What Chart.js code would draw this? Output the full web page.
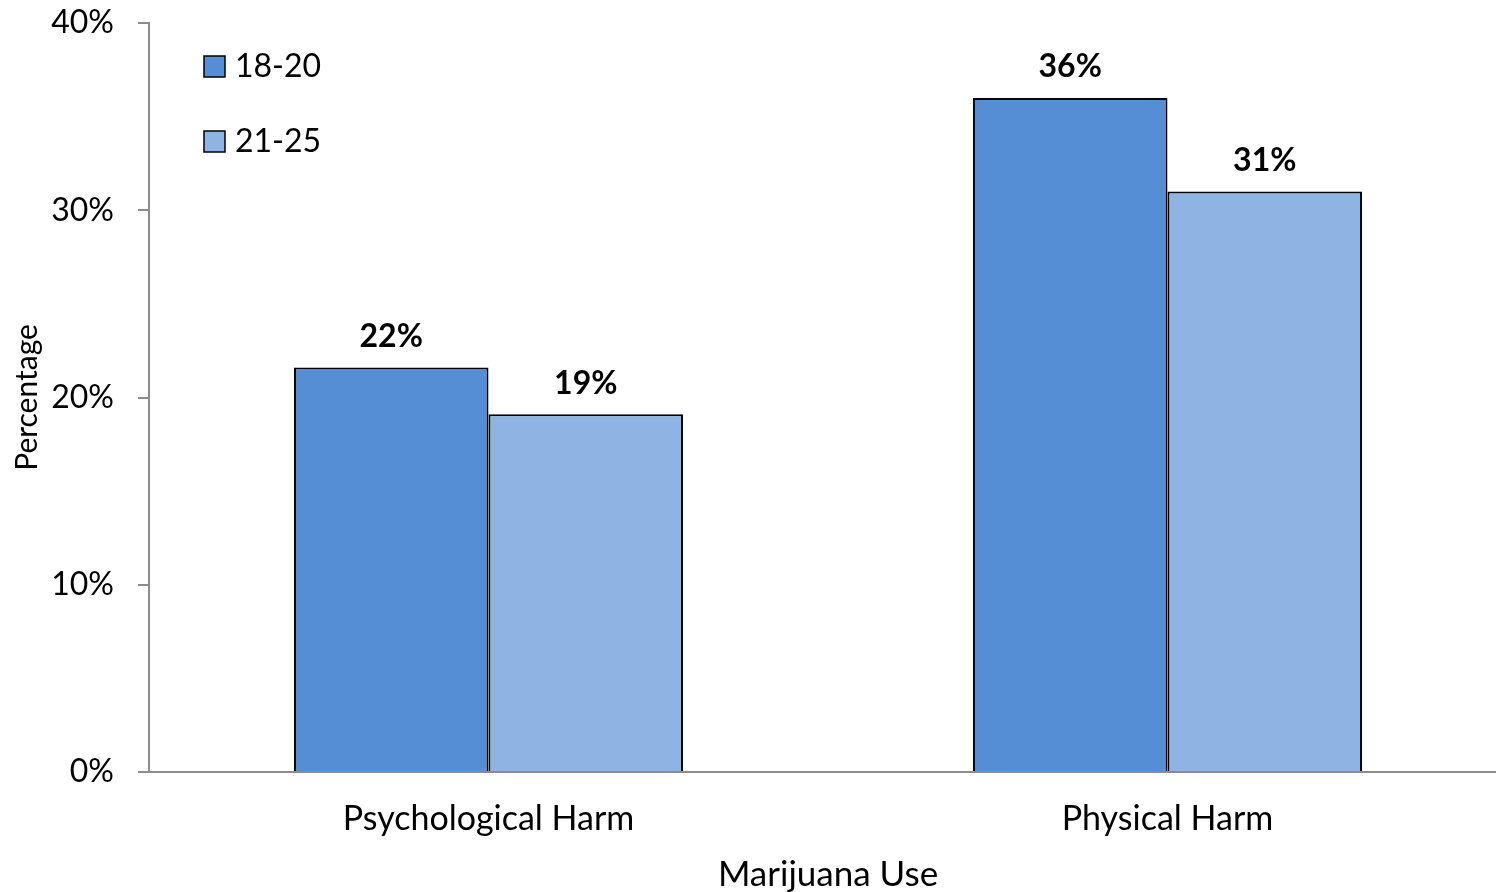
<!DOCTYPE html>
<html>
<head>
<style>
  html, body { margin: 0; padding: 0; background: #fff; overflow: hidden; }
  #wrap { width: 1507px; height: 892px; }
</style>
</head>
<body>
<div id="wrap">
  <canvas id="chartHarm"></canvas>
</div>
<script src="https://cdn.jsdelivr.net/npm/chart.js@4"></script>
<script>
const categories = ['Psychological Harm', 'Physical Harm'];
const seriesNames = ['18-20', '21-25'];
const values1820 = [21.6, 36.0];
const values2125 = [19.1, 31.0];
const yTicks = [0, 10, 20, 30, 40];

const FONT = 'Lato, "Open Sans", sans-serif';
const colors = ['#558ED5', '#8EB4E3'];

// value labels above each bar
const barLabels = {
    id: 'barLabels',
    afterDatasetsDraw(chart) {
        const ctx = chart.ctx;
        ctx.save();
        ctx.font = 'bold 32px ' + FONT;
        ctx.fillStyle = '#000';
        ctx.textAlign = 'center';
        ctx.textBaseline = 'bottom';
        chart.data.datasets.forEach((ds, i) => {
            chart.getDatasetMeta(i).data.forEach((bar, j) => {
                ctx.fillText(Math.round(ds.data[j]) + '%', bar.x, bar.y - 15);
            });
        });
        ctx.restore();
    }
};

// legend inside the plot, top left
const insideLegend = {
    id: 'insideLegend',
    afterDraw(chart) {
        const ctx = chart.ctx;
        const left = chart.chartArea.left;
        ctx.save();
        ctx.font = '32px ' + FONT;
        ctx.textBaseline = 'middle';
        chart.data.datasets.forEach((ds, i) => {
            const cy = 66 + i * 75;
            ctx.fillStyle = ds.backgroundColor;
            ctx.fillRect(left + 55, cy - 10, 21, 21);
            ctx.strokeStyle = '#000';
            ctx.lineWidth = 1.5;
            ctx.strokeRect(left + 55, cy - 10, 21, 21);
            ctx.fillStyle = '#000';
            ctx.fillText(ds.label, left + 86, cy + 1);
        });
        ctx.restore();
    }
};

new Chart(document.getElementById('chartHarm'), {
    type: 'bar',
    data: {
        labels: categories,
        datasets: [
            { label: seriesNames[0], data: values1820, backgroundColor: colors[0], borderColor: '#000', borderWidth: 2 },
            { label: seriesNames[1], data: values2125, backgroundColor: colors[1], borderColor: '#000', borderWidth: 2 }
        ]
    },
    options: {
        responsive: true,
        maintainAspectRatio: false,
        animation: false,
        layout: { padding: { top: 23, left: 0, right: 0, bottom: 0 } },
        datasets: { bar: { categoryPercentage: 0.573, barPercentage: 1 } },
        plugins: {
            legend: { display: false },
            tooltip: { enabled: false }
        },
        scales: {
            x: {
                grid: { display: false, drawTicks: false },
                border: { display: true, color: '#8c8c8c', width: 2 },
                ticks: { color: '#000', font: { family: FONT, size: 34 }, padding: 27 },
                title: { display: true, text: 'Marijuana Use', color: '#000', font: { family: FONT, size: 35, lineHeight: 1 }, padding: 0 },
                afterFit: s => { s.height = 120; }
            },
            y: {
                min: 0,
                max: 40,
                afterBuildTicks: s => { s.ticks = yTicks.map(v => ({ value: v })); },
                grid: { display: true, drawOnChartArea: false, drawTicks: true, tickLength: 11, color: '#8c8c8c', lineWidth: 2 },
                border: { display: true, color: '#8c8c8c', width: 2 },
                ticks: { color: '#000', font: { family: FONT, size: 32 }, padding: 24, callback: v => v + '%' },
                title: { display: true, text: 'Percentage', color: '#000', font: { family: FONT, size: 30 }, padding: { top: 9 } },
                afterFit: s => { s.width = 149; s.paddingTop = 0; s.paddingBottom = 0; }
            }
        }
    },
    plugins: [barLabels, insideLegend]
});
</script>
</body>
</html>
